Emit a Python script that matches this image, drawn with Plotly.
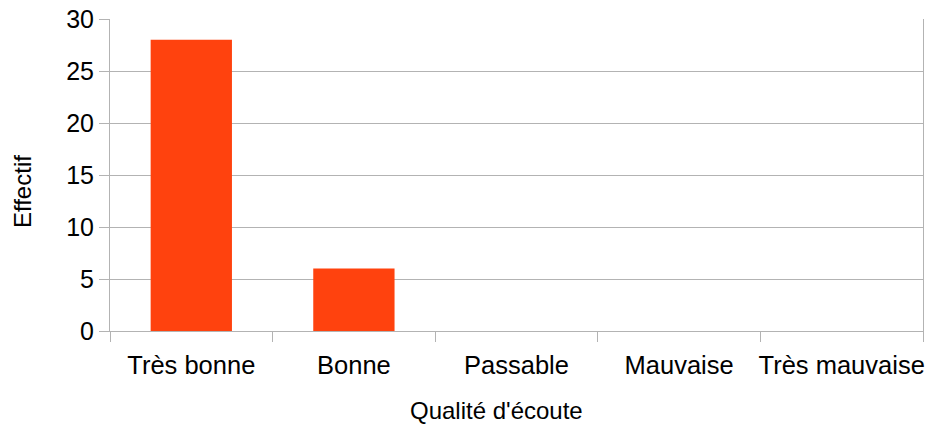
import plotly.graph_objects as go

categories = ["Très bonne", "Bonne", "Passable", "Mauvaise", "Très mauvaise"]
effectifs = [28, 6, 0, 0, 0]
y_ticks = [0, 5, 10, 15, 20, 25, 30]

x_title = "Qualité d'écoute"
y_title = "Effectif"

grid = "#b3b3b3"
font_family = "Liberation Sans, Arial, sans-serif"

fig = go.Figure(
    go.Bar(
        x=categories,
        y=effectifs,
        marker=dict(color="#ff420e", line=dict(width=0)),
        width=0.5,
    )
)

fig.update_layout(
    width=928,
    height=425,
    margin=dict(l=110, r=5, t=19, b=94),
    paper_bgcolor="white",
    plot_bgcolor="white",
    font=dict(family=font_family, color="black"),
    showlegend=False,
)

fig.update_xaxes(
    range=[-0.5, 4.5],
    tickson="boundaries",
    ticks="outside",
    ticklen=10,
    tickwidth=1,
    tickcolor=grid,
    tickangle=0,
    ticklabelstandoff=11,
    automargin=False,
    showline=True,
    linecolor=grid,
    linewidth=1,
    showgrid=False,
    tickfont=dict(size=25.5),
)

fig.update_yaxes(
    range=[0, 30],
    tickvals=y_ticks,
    ticks="outside",
    ticklen=10,
    tickwidth=1,
    tickcolor=grid,
    automargin=False,
    showline=True,
    mirror=True,
    linecolor=grid,
    linewidth=1,
    showgrid=True,
    gridcolor=grid,
    gridwidth=1,
    zeroline=False,
    tickfont=dict(size=25),
)

# Axis titles placed as paper-anchored annotations
fig.add_annotation(
    text=x_title,
    xref="paper", yref="paper",
    x=0.4748, y=-0.2548,
    xanchor="center", yanchor="middle",
    showarrow=False,
    font=dict(size=24),
)
fig.add_annotation(
    text=y_title,
    xref="paper", yref="paper",
    x=-0.1082, y=0.4455,
    xanchor="center", yanchor="middle",
    textangle=-90,
    showarrow=False,
    font=dict(size=24),
)

fig.write_html("out.html")
